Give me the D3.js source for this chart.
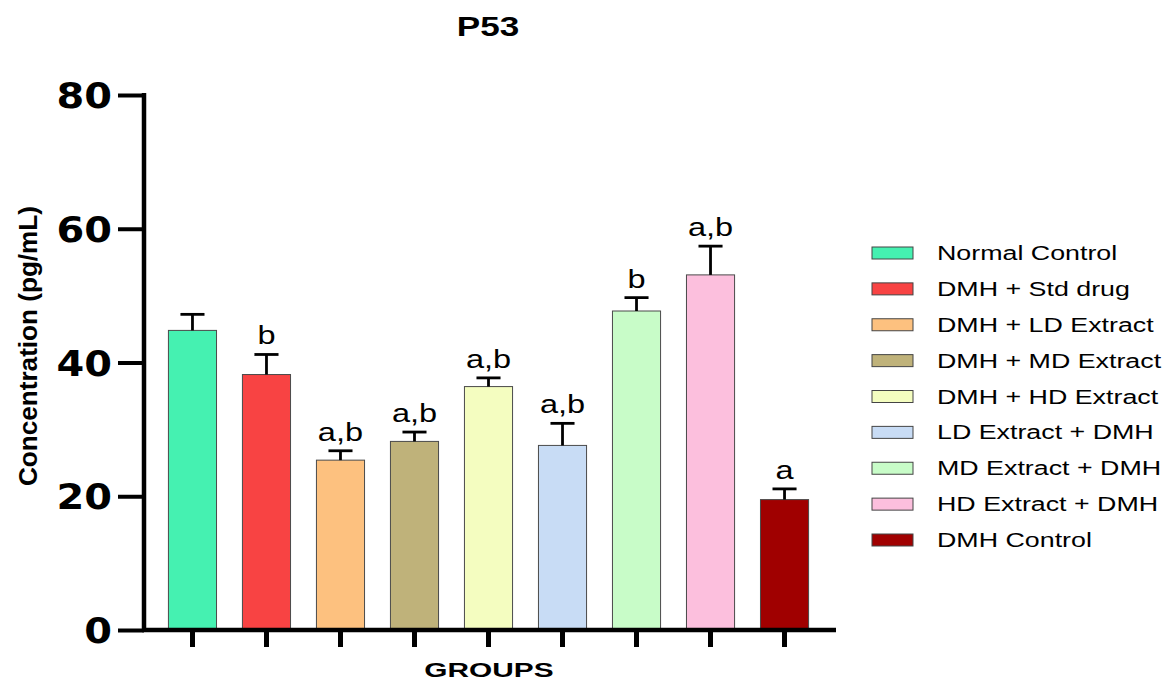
<!DOCTYPE html>
<html>
<head>
<meta charset="utf-8">
<script src="https://cdn.jsdelivr.net/npm/d3@7"></script>
<style>
  body { margin: 0; background: #fff; }
  svg { display: block; }
</style>
</head>
<body>
<svg id="chart" width="1169" height="684"></svg>
<script>
  // data
  var groups = ["Normal Control", "DMH + Std drug", "DMH + LD Extract", "DMH + MD Extract",
                "DMH + HD Extract", "LD Extract + DMH", "MD Extract + DMH", "HD Extract + DMH", "DMH Control"];
  var means = [44.8, 38.2, 25.4, 28.2, 36.4, 27.6, 47.7, 53.1, 19.5];
  var errors = [2.4, 3.0, 1.4, 1.4, 1.3, 3.3, 2.0, 4.3, 1.6];
  var letters = ["", "b", "a,b", "a,b", "a,b", "a,b", "b", "a,b", "a"];
  var colors = ["#45f1b1", "#f84343", "#fdc17f", "#bfb27a", "#f4fdc0", "#c8dcf5", "#c8fcc8", "#fcbfdd", "#a00000"];
  var yTicks = [0, 20, 40, 60, 80];

  var svg = d3.select("#chart");

  var x = d3.scaleBand()
    .domain(groups)
    .range([144, 833])
    .paddingInner(0.35)
    .paddingOuter(0.33);

  var y = d3.scaleLinear()
    .domain([0, 80])
    .range([630, 95]);

  // stretches text wider, the source figure is drawn wide
  function stretch(sel, k) {
    sel.each(function() {
      var w = this.getComputedTextLength();
      d3.select(this).attr("textLength", w * k).attr("lengthAdjust", "spacingAndGlyphs");
    });
  }

  // bars
  svg.append("g").selectAll("rect")
    .data(groups)
    .join("rect")
    .attr("x", function(d) { return x(d); })
    .attr("y", function(d, i) { return y(means[i]); })
    .attr("width", x.bandwidth())
    .attr("height", function(d, i) { return y(0) - y(means[i]); })
    .attr("fill", function(d, i) { return colors[i]; })
    .attr("stroke", "#4a4a4a")
    .attr("stroke-width", 1);

  // error bars (upper only)
  var err = svg.append("g").attr("stroke", "#000").attr("stroke-width", 2.8);
  groups.forEach(function(g, i) {
    var cx = x(g) + x.bandwidth() / 2;
    err.append("line")
      .attr("x1", cx).attr("x2", cx)
      .attr("y1", y(means[i])).attr("y2", y(means[i] + errors[i]));
    err.append("line")
      .attr("x1", cx - x.bandwidth() / 4).attr("x2", cx + x.bandwidth() / 4)
      .attr("y1", y(means[i] + errors[i])).attr("y2", y(means[i] + errors[i]));
  });

  // significance letters
  svg.append("g").selectAll("text")
    .data(groups)
    .join("text")
    .attr("x", function(d) { return x(d) + x.bandwidth() / 2; })
    .attr("y", function(d, i) { return y(means[i] + errors[i]) - 10; })
    .attr("text-anchor", "middle")
    .style("font-family", "'Liberation Sans', Arial, sans-serif")
    .style("font-size", "25px")
    .text(function(d, i) { return letters[i]; })
    .call(stretch, 1.3);

  // y axis
  var yAxis = svg.append("g")
    .attr("transform", "translate(144,0)")
    .call(d3.axisLeft(y).tickValues(yTicks).tickSize(26).tickPadding(6).tickSizeOuter(0));
  yAxis.select(".domain").attr("stroke", "#000").attr("stroke-width", 4.5)
    .attr("d", "M0," + (y(80) - 2) + "V" + (y(0) + 2));
  yAxis.selectAll(".tick line").attr("stroke", "#000").attr("stroke-width", 4);
  yAxis.selectAll(".tick text")
    .style("font-family", "'DejaVu Sans', sans-serif")
    .style("font-weight", "bold")
    .style("font-size", "35px")
    .attr("dy", "0.36em")
    .call(stretch, 1.14);

  // x axis
  var xAxis = svg.append("g")
    .attr("transform", "translate(0,630)")
    .call(d3.axisBottom(x).tickSize(17).tickFormat("").tickSizeOuter(0));
  xAxis.select(".domain").attr("stroke", "#000").attr("stroke-width", 4.5)
    .attr("d", "M142,0H836");
  xAxis.selectAll(".tick line").attr("stroke", "#000").attr("stroke-width", 5);

  // title and axis labels
  svg.append("text")
    .attr("x", 488).attr("y", 36)
    .attr("text-anchor", "middle")
    .style("font-family", "'Liberation Sans', Arial, sans-serif")
    .style("font-weight", "bold")
    .style("font-size", "27px")
    .text("P53")
    .call(stretch, 1.3);

  svg.append("text")
    .attr("x", 489).attr("y", 677)
    .attr("text-anchor", "middle")
    .style("font-family", "'Liberation Sans', Arial, sans-serif")
    .style("font-weight", "bold")
    .style("font-size", "21px")
    .text("GROUPS")
    .call(stretch, 1.42);

  svg.append("text")
    .attr("transform", "translate(37,346) rotate(-90)")
    .attr("text-anchor", "middle")
    .style("font-family", "'Liberation Sans', Arial, sans-serif")
    .style("font-weight", "bold")
    .style("font-size", "26px")
    .text("Concentration (pg/mL)")
    .attr("textLength", 280)
    .attr("lengthAdjust", "spacingAndGlyphs");

  // legend
  var ly = d3.scalePoint().domain(groups).range([253, 540]);
  var legend = svg.append("g").selectAll("g")
    .data(groups)
    .join("g")
    .attr("transform", function(d) { return "translate(872," + ly(d) + ")"; });
  legend.append("rect")
    .attr("x", 0).attr("y", -6)
    .attr("width", 41).attr("height", 12)
    .attr("fill", function(d, i) { return colors[i]; })
    .attr("stroke", "#444")
    .attr("stroke-width", 1);
  legend.append("text")
    .attr("x", 65).attr("y", 7)
    .style("font-family", "'Liberation Sans', Arial, sans-serif")
    .style("font-size", "20px")
    .text(function(d) { return d; })
    .call(stretch, 1.34);
</script>
</body>
</html>
